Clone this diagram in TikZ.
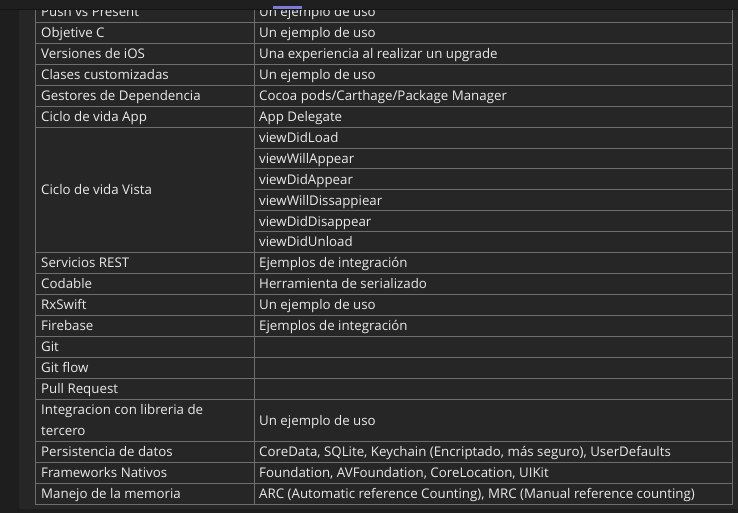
\documentclass[tikz,border=0pt]{standalone}
\usepackage{fontspec}
\setmainfont{Open Sans}
\definecolor{panel}{HTML}{262626}
\definecolor{strip}{HTML}{1E1E1E}
\definecolor{headbg}{HTML}{1F1F1F}
\definecolor{headline}{HTML}{141414}
\definecolor{gridc}{HTML}{6E6E6E}
\definecolor{txt}{HTML}{EAEAEA}
\definecolor{tabmark}{HTML}{7B7BD8}
\newcommand{\tblfont}{\fontsize{13.3}{16}\selectfont}
\tikzset{
  cell/.style={anchor=base west, inner sep=0pt, text=txt, font=\tblfont},
  gridline/.style={draw=gridc, line width=1pt},
}
\begin{document}
\begin{tikzpicture}[x=1pt,y=-1pt]
\useasboundingbox (0,0) rectangle (738,513);
% backgrounds
\fill[panel] (0,0) rectangle (738,513);
\fill[strip] (0,0) rectangle (19,513);
\fill[strip] (0,508.5) rectangle (738,513);
% grid
\def\rh{20.96}
\def\yz{1.3}
\draw[gridline] (35,\yz) rectangle (732,{\yz+24*\rh});
\draw[gridline] (254,\yz) -- (254,{\yz+24*\rh});
\foreach \k in {1,...,6,12,13,...,19,21,22,23}{
  \draw[gridline] (35,{\yz+\k*\rh}) -- (732,{\yz+\k*\rh});
}
\foreach \k in {7,...,11}{
  \draw[gridline] (254,{\yz+\k*\rh}) -- (732,{\yz+\k*\rh});
}
% left column texts
\newcommand{\rowb}[1]{\yz+#1*\rh+15.1}
\node[cell] (l0) at (41,{\rowb{0}}) {Push vs Present};
\node[cell] (l1) at (41,{\rowb{1}}) {Objetive C};
\node[cell] (l2) at (41,{\rowb{2}}) {Versiones de iOS};
\node[cell] (l3) at (41,{\rowb{3}}) {Clases customizadas};
\node[cell] (l4) at (41,{\rowb{4}}) {Gestores de Dependencia};
\node[cell] (l5) at (41,{\rowb{5}}) {Ciclo de vida App};
\node[cell] (l6) at (41,{\rowb{8.5}}) {Ciclo de vida Vista};
\node[cell] (l12) at (41,{\rowb{12}}) {Servicios REST};
\node[cell] (l13) at (41,{\rowb{13}}) {Codable};
\node[cell] (l14) at (41,{\rowb{14}}) {RxSwift};
\node[cell] (l15) at (41,{\rowb{15}}) {Firebase};
\node[cell] (l16) at (41,{\rowb{16}}) {Git};
\node[cell] (l17) at (41,{\rowb{17}}) {Git flow};
\node[cell] (l18) at (41,{\rowb{18}}) {Pull Request};
\node[cell] (l19a) at (41,{\rowb{19}}) {Integracion con libreria de};
\node[cell] (l19b) at (41,{\rowb{20}}) {tercero};
\node[cell] (l21) at (41,{\rowb{21}}) {Persistencia de datos};
\node[cell] (l22) at (41,{\rowb{22}}) {Frameworks Nativos};
\node[cell] (l23) at (41,{\rowb{23}}) {Manejo de la memoria};
% right column texts
\node[cell] (r0) at (259,{\rowb{0}}) {Un ejemplo de uso};
\node[cell] (r1) at (259,{\rowb{1}}) {Un ejemplo de uso};
\node[cell] (r2) at (259,{\rowb{2}}) {Una experiencia al realizar un upgrade};
\node[cell] (r3) at (259,{\rowb{3}}) {Un ejemplo de uso};
\node[cell] (r4) at (259,{\rowb{4}}) {Cocoa pods/Carthage/Package Manager};
\node[cell] (r5) at (259,{\rowb{5}}) {App Delegate};
\node[cell] (r6) at (259,{\rowb{6}}) {viewDidLoad};
\node[cell] (r7) at (259,{\rowb{7}}) {viewWillAppear};
\node[cell] (r8) at (259,{\rowb{8}}) {viewDidAppear};
\node[cell] (r9) at (259,{\rowb{9}}) {viewWillDissappiear};
\node[cell] (r10) at (259,{\rowb{10}}) {viewDidDisappear};
\node[cell] (r11) at (259,{\rowb{11}}) {viewDidUnload};
\node[cell] (r12) at (259,{\rowb{12}}) {Ejemplos de integración};
\node[cell] (r13) at (259,{\rowb{13}}) {Herramienta de serializado};
\node[cell] (r14) at (259,{\rowb{14}}) {Un ejemplo de uso};
\node[cell] (r15) at (259,{\rowb{15}}) {Ejemplos de integración};
\node[cell] (r19) at (259,{\rowb{19.5}}) {Un ejemplo de uso};
\node[cell] (r21) at (259,{\rowb{21}}) {CoreData, SQLite, Keychain (Encriptado, más seguro), UserDefaults};
\node[cell] (r22) at (259,{\rowb{22}}) {Foundation, AVFoundation, CoreLocation, UIKit};
\node[cell] (r23) at (259,{\rowb{23}}) {ARC (Automatic reference Counting), MRC (Manual reference counting)};
% header overlay
\fill[headbg] (0,0) rectangle (738,9);
\fill[headline] (0,9) rectangle (738,10);
\fill[tabmark] (273,6) rectangle (302,9);
\end{tikzpicture}
\end{document}
